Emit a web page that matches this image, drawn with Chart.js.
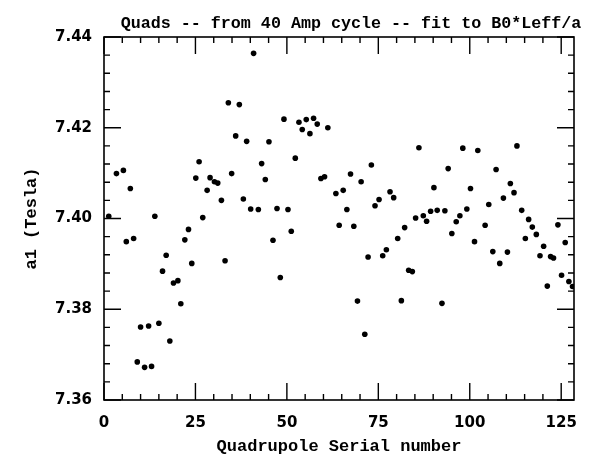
<!DOCTYPE html>
<html>
<head>
<meta charset="utf-8">
<script src="https://cdn.jsdelivr.net/npm/chart.js@4/dist/chart.umd.min.js"></script>
<style>
  html, body { margin: 0; padding: 0; background: #fff; }
  #wrap { width: 600px; height: 461px; }
</style>
</head>
<body>
<div id="wrap"><canvas id="quadChart"></canvas></div>
<script>
// quad serial numbers and fitted a1 values
const serials = [
  1.3, 3.4, 5.3, 7.2, 6.1, 8.1, 9.1, 10.0, 11.1, 12.2, 13.0, 13.9, 15.0, 16.0, 17.0, 18.0,
  19.0, 20.2, 21.0, 22.1, 23.1, 24.0, 25.1, 26.0, 27.0, 28.2, 29.0, 30.2, 31.1, 32.1, 33.1,
  34.0, 34.9, 36.0, 37.0, 38.1, 39.0, 40.1, 40.9, 42.2, 43.1, 44.1, 45.1, 46.2, 47.3, 48.2,
  49.2, 50.3, 51.2, 52.3, 53.3, 54.2, 55.3, 56.3, 57.3, 58.3, 59.3, 60.3, 61.2, 63.4, 64.3,
  65.4, 66.4, 67.4, 68.3, 69.3, 70.3, 71.3, 72.2, 73.1, 74.1, 75.2, 76.2, 77.2, 78.2, 79.2,
  80.3, 81.3, 82.2, 83.3, 84.3, 85.2, 86.1, 87.3, 88.2, 89.3, 90.2, 91.1, 92.4, 93.2, 94.1,
  95.1, 96.3, 97.3, 98.1, 99.2, 100.2, 101.3, 102.2, 104.2, 105.2, 106.3, 107.2, 108.2, 109.2,
  110.3, 111.1, 112.1, 112.9, 114.2, 115.2, 116.1, 117.1, 118.2, 119.2, 120.2, 121.2, 122.1,
  122.9, 124.1, 125.1, 126.1, 127.1, 128.1
];
const a1Tesla = [
  7.4005, 7.4099, 7.4106, 7.4066, 7.3949, 7.3956, 7.3684, 7.3761, 7.3672, 7.3763, 7.3674, 7.4005, 7.3769, 7.3884, 7.3919, 7.3730,
  7.3858, 7.3863, 7.3812, 7.3953, 7.3976, 7.3901, 7.4089, 7.4125, 7.4002, 7.4062, 7.4090, 7.4081, 7.4078, 7.4040, 7.3907,
  7.4255, 7.4099, 7.4182, 7.4251, 7.4043, 7.4170, 7.4021, 7.4364, 7.4020, 7.4121, 7.4086, 7.4169, 7.3952, 7.4022, 7.3870,
  7.4219, 7.4020, 7.3972, 7.4133, 7.4212, 7.4196, 7.4218, 7.4187, 7.4221, 7.4208, 7.4088, 7.4092, 7.4200, 7.4055, 7.3985,
  7.4062, 7.4020, 7.4098, 7.3983, 7.3818, 7.4081, 7.3745, 7.3915, 7.4118, 7.4028, 7.4042, 7.3918, 7.3931, 7.4059, 7.4046,
  7.3956, 7.3819, 7.3980, 7.3886, 7.3883, 7.4001, 7.4156, 7.4006, 7.3994, 7.4016, 7.4068, 7.4018, 7.3813, 7.4017, 7.4110,
  7.3967, 7.3993, 7.4006, 7.4155, 7.4021, 7.4066, 7.3949, 7.4150, 7.3985, 7.4031, 7.3927, 7.4108, 7.3901, 7.4045,
  7.3926, 7.4077, 7.4057, 7.4160, 7.4018, 7.3956, 7.3998, 7.3981, 7.3965, 7.3918, 7.3939, 7.3851, 7.3916,
  7.3913, 7.3986, 7.3875, 7.3947, 7.3861, 7.3850
];
const xTicks = [0, 25, 50, 75, 100, 125];
const yTicks = [7.36, 7.38, 7.40, 7.42, 7.44];
const xMinorStep = 5;
const yMinorStep = 0.004;
const chartTitle = 'Quads -- from 40 Amp cycle -- fit to B0*Leff/a';

const MONO = '"Liberation Mono", "DejaVu Sans Mono", monospace';
const SANS = '"DejaVu Sans", sans-serif';

// box round the plot with inward ticks on all four sides, plus the title
const frameTicks = {
  id: 'frameTicks',
  afterDatasetsDraw(chart) {
    const { ctx, chartArea: a, scales: { x, y } } = chart;
    ctx.save();
    ctx.strokeStyle = '#000';
    ctx.lineWidth = 1.6;
    ctx.strokeRect(a.left, a.top, a.right - a.left, a.bottom - a.top);
    ctx.lineWidth = 1.4;
    ctx.beginPath();
    for (let i = 0; i * xMinorStep <= x.max; i++) {
      const v = i * xMinorStep;
      const px = x.getPixelForValue(v);
      const len = xTicks.includes(v) ? 17 : 6;
      ctx.moveTo(px, a.bottom); ctx.lineTo(px, a.bottom - len);
      ctx.moveTo(px, a.top); ctx.lineTo(px, a.top + len);
    }
    const nY = Math.round((y.max - y.min) / yMinorStep);
    for (let i = 0; i <= nY; i++) {
      const py = y.getPixelForValue(y.min + i * yMinorStep);
      const len = i % 5 === 0 ? 17 : 6;
      ctx.moveTo(a.left, py); ctx.lineTo(a.left + len, py);
      ctx.moveTo(a.right, py); ctx.lineTo(a.right - len, py);
    }
    ctx.stroke();
    ctx.restore();
  },
  afterDraw(chart) {
    const { ctx } = chart;
    ctx.save();
    ctx.fillStyle = '#000';
    ctx.font = 'bold 16.7px ' + MONO;
    ctx.textAlign = 'center';
    ctx.textBaseline = 'alphabetic';
    ctx.fillText(chartTitle, 351, 28);
    ctx.restore();
  }
};

new Chart(document.getElementById('quadChart'), {
  type: 'scatter',
  data: {
    datasets: [{
      label: 'a1',
      data: serials.map((s, i) => ({ x: s, y: a1Tesla[i] })),
      pointStyle: 'circle',
      pointRadius: 2.8,
      pointHoverRadius: 2.8,
      backgroundColor: '#000',
      borderColor: '#000',
      borderWidth: 0
    }]
  },
  options: {
    responsive: true,
    maintainAspectRatio: false,
    animation: false,
    layout: { padding: { left: 0, right: 26, top: 37, bottom: 0 } },
    plugins: {
      legend: { display: false },
      tooltip: { enabled: false },
      title: { display: false }
    },
    scales: {
      x: {
        type: 'linear',
        min: 0,
        max: 128.5,
        grid: { display: false, drawTicks: false },
        border: { display: false },
        afterBuildTicks: s => { s.ticks = xTicks.map(v => ({ value: v })); },
        afterFit: s => { s.height = 61; },
        ticks: {
          color: '#000',
          padding: 14,
          maxRotation: 0,
          font: { family: SANS, size: 15, weight: 'bold' }
        },
        title: {
          display: true,
          text: 'Quadrupole Serial number',
          color: '#000',
          padding: { top: 0, bottom: 4 },
          font: { family: MONO, size: 17, weight: 'bold' }
        }
      },
      y: {
        min: 7.36,
        max: 7.44,
        grid: { display: false, drawTicks: false },
        border: { display: false },
        afterBuildTicks: s => { s.ticks = yTicks.map(v => ({ value: v })); },
        afterFit: s => { s.width = 104; },
        ticks: {
          color: '#000',
          padding: 12,
          callback: v => v.toFixed(2),
          font: { family: SANS, size: 15, weight: 'bold' }
        },
        title: {
          display: true,
          text: 'a1 (Tesla)',
          color: '#000',
          padding: { top: 22, bottom: 0 },
          font: { family: MONO, size: 17, weight: 'bold' }
        }
      }
    }
  },
  plugins: [frameTicks]
});
</script>
</body>
</html>
